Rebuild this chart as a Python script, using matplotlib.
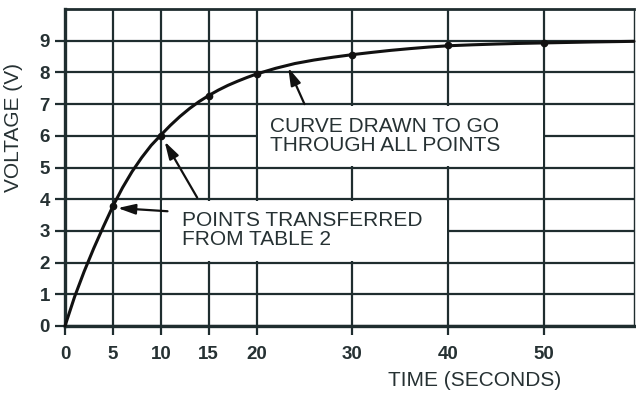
import matplotlib
matplotlib.use("Agg")
import matplotlib.pyplot as plt
from matplotlib.patches import Rectangle

# ---- data ----
point_t = [5, 10, 15, 20, 30, 40, 50]
point_v = [3.8, 6.0, 7.27, 7.95, 8.56, 8.85, 8.93]

curve_t = [0, 1, 2, 3, 4, 5, 6, 7, 8, 9, 10, 11, 12, 13, 14, 15, 16, 17, 18,
           19, 20, 22, 24, 26, 28, 30, 32, 34, 36, 38, 40, 42.5, 45, 47.5, 50,
           55, 59.4]
curve_v = [0, 0.92, 1.72, 2.45, 3.13, 3.78, 4.36, 4.87, 5.31, 5.7, 6.02, 6.33,
           6.61, 6.86, 7.08, 7.27, 7.44, 7.59, 7.72, 7.84, 7.95, 8.13, 8.28,
           8.39, 8.48, 8.56, 8.63, 8.695, 8.75, 8.8, 8.84, 8.87, 8.895, 8.915,
           8.93, 8.96, 8.98]

x_ticks = [0, 5, 10, 15, 20, 30, 40, 50]
y_ticks = [0, 1, 2, 3, 4, 5, 6, 7, 8, 9]

label_curve = "CURVE DRAWN TO GO\nTHROUGH ALL POINTS"
label_points = "POINTS TRANSFERRED\nFROM TABLE 2"
x_label = "TIME (SECONDS)"
y_label = "VOLTAGE (V)"

# ---- style ----
W, H, DPI = 636, 394, 100
GRID = "#1f2d2f"
TXT = "#263133"
plt.rcParams["font.family"] = ["Liberation Sans", "DejaVu Sans"]

fig = plt.figure(figsize=(W / DPI, H / DPI), dpi=DPI, facecolor="white")
L, R, T, B = 65, 634, 9, 326
ax = fig.add_axes([L / W, 1 - B / H, (R - L) / W, (B - T) / H])
ax.set_xlim(0, 59.4)
ax.set_ylim(0, 10)

ax.set_xticks(x_ticks)
ax.set_yticks(y_ticks)
ax.set_xticklabels([str(v) for v in x_ticks])
ax.set_yticklabels([str(v) for v in y_ticks])
ax.grid(True, color=GRID, linewidth=1.6, zorder=1)
ax.tick_params(axis="x", direction="out", length=6.5, width=1.6, color=GRID,
               pad=8, labelsize=13.5, labelcolor=TXT)
ax.tick_params(axis="y", direction="out", length=7.2, width=1.6, color=GRID,
               pad=3.6, labelsize=13.5, labelcolor=TXT)
for lab in ax.get_xticklabels() + ax.get_yticklabels():
    lab.set_fontweight("bold")

for side in ["left", "bottom"]:
    ax.spines[side].set_linewidth(2.4)
    ax.spines[side].set_color(GRID)
ax.spines["top"].set_linewidth(2.0)
ax.spines["top"].set_color(GRID)
ax.spines["right"].set_linewidth(1.0)
ax.spines["right"].set_color(GRID)

# white areas behind the annotation texts (grid interrupted there)
ax.add_patch(Rectangle((10.15, 2.05), 29.7, 1.9, facecolor="white",
                       edgecolor="none", zorder=1.8))
ax.add_patch(Rectangle((20.15, 5.05), 29.7, 1.9, facecolor="white",
                       edgecolor="none", zorder=1.8))

# curve and points
ax.plot(curve_t, curve_v, color="#111111", linewidth=2.2, zorder=3,
        solid_capstyle="round", solid_joinstyle="round", clip_on=False)
ax.plot(point_t, point_v, "o", color="#111111", markersize=4.5, zorder=4)

# annotations
ax.text(21.4, 6.6, label_curve, ha="left", va="top", fontsize=15,
        color=TXT, linespacing=1.0, zorder=5)
ax.text(12.2, 3.62, label_points, ha="left", va="top", fontsize=15,
        color=TXT, linespacing=1.0, zorder=5)

arrow = dict(arrowstyle="-|>,head_length=0.75,head_width=0.22",
             color="#111111", linewidth=1.6, mutation_scale=14,
             shrinkA=0, shrinkB=0)
ax.annotate("", xy=(5.5, 3.72), xytext=(10.7, 3.62), arrowprops=arrow, zorder=5)
ax.annotate("", xy=(10.4, 5.82), xytext=(13.8, 4.05), arrowprops=arrow, zorder=5)
ax.annotate("", xy=(23.3, 8.15), xytext=(25.0, 7.0), arrowprops=arrow, zorder=5)

# axis labels
fig.text(475 / W, 1 - 380 / H, x_label, ha="center", va="center",
         fontsize=15, color=TXT)
fig.text(14 / W, 1 - 128 / H, y_label, ha="center", va="center",
         rotation=90, fontsize=15, color=TXT)

fig.savefig("out.png", dpi=DPI, facecolor="white")
